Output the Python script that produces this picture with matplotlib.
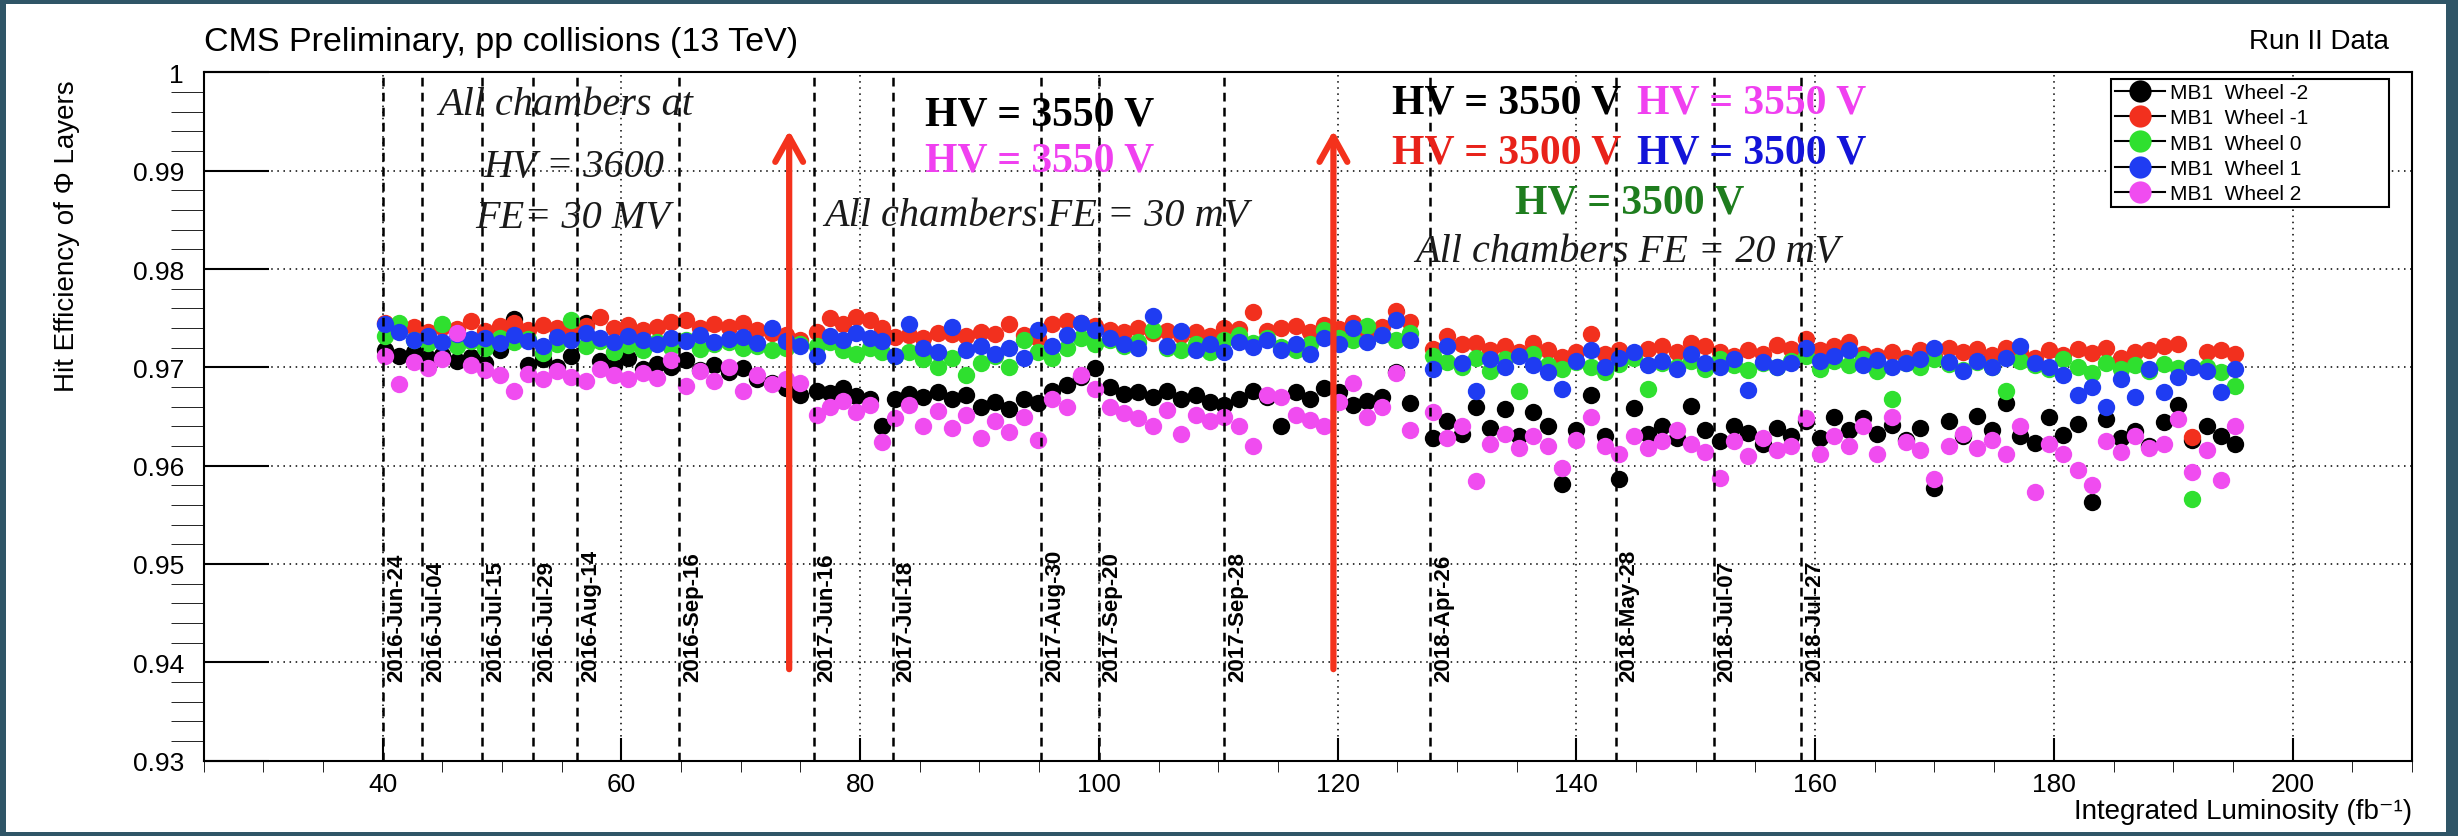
"""MB1 hit efficiency of the Phi layers vs integrated luminosity, CMS Run II."""

import matplotlib

matplotlib.use("Agg")
import matplotlib.pyplot as plt
from matplotlib.lines import Line2D
from matplotlib.patches import Rectangle
from matplotlib.ticker import FuncFormatter, MultipleLocator

SANS = ["Liberation Sans", "DejaVu Sans"]
SERIF = ["Liberation Serif", "DejaVu Serif"]

# integrated luminosity of each point (fb^-1), shared by the five wheels
LUMI = (
    [40.2, 41.4, 42.6, 43.8, 45.0, 46.2, 47.4, 48.6, 49.8, 51.0,
     52.2, 53.4, 54.6, 55.8, 57.0, 58.2, 59.4, 60.6, 61.8, 63.0,
     64.2, 65.4, 66.6, 67.8, 69.0, 70.2, 71.4, 72.6, 73.8, 75.0]
    + [76.4, 77.5, 78.6, 79.7, 80.8, 81.8]
    + [82.9, 84.1, 85.3, 86.5, 87.7, 88.9, 90.1, 91.3, 92.5, 93.7,
       94.9, 96.1, 97.3, 98.5, 99.7, 100.9, 102.1, 103.3, 104.5, 105.7,
       106.9, 108.1, 109.3, 110.5, 111.7, 112.9, 114.1, 115.3, 116.5, 117.7,
       118.9, 120.1, 121.3, 122.5, 123.7, 124.9, 126.1]
    + [128.0, 129.2, 130.4, 131.6, 132.8, 134.0, 135.2, 136.4, 137.6, 138.8,
       140.0, 141.2, 142.4, 143.6, 144.8, 146.0, 147.2, 148.4, 149.6, 150.8,
       152.0, 153.2, 154.4, 155.6, 156.8, 158.0, 159.2, 160.4, 161.6, 162.8,
       164.0, 165.2, 166.4, 167.6, 168.8, 170.0, 171.2, 172.4, 173.6, 174.8,
       176.0, 177.2, 178.4, 179.6, 180.8, 182.0, 183.2, 184.4, 185.6, 186.8,
       188.0, 189.2, 190.4, 191.6, 192.8, 194.0, 195.2]
)

EFF_WM2 = (
    [0.9718, 0.9712, 0.9716, 0.9709, 0.9713, 0.9706, 0.9711, 0.9704, 0.9718, 0.9749,
     0.9702, 0.9708, 0.9700, 0.9712, 0.9745, 0.9706, 0.9701, 0.9709, 0.9698, 0.9703,
     0.9700, 0.9707, 0.9697, 0.9702, 0.9695, 0.9699, 0.9688, 0.9684, 0.9679, 0.9672]
    + [0.9676, 0.9674, 0.9679, 0.9671, 0.9668, 0.9640]
    + [0.9668, 0.9673, 0.9670, 0.9675, 0.9668, 0.9672, 0.9660, 0.9665, 0.9658, 0.9668,
       0.9664, 0.9676, 0.9682, 0.9690, 0.9699, 0.9680, 0.9673, 0.9675, 0.9670, 0.9676,
       0.9668, 0.9672, 0.9665, 0.9662, 0.9668, 0.9676, 0.9670, 0.9640, 0.9675, 0.9668,
       0.9679, 0.9675, 0.9662, 0.9666, 0.9670, 0.9695, 0.9664]
    + [0.9628, 0.9645, 0.9632, 0.9660, 0.9638, 0.9658, 0.9630, 0.9655, 0.9640, 0.9581,
       0.9636, 0.9672, 0.9630, 0.9586, 0.9659, 0.9632, 0.9640, 0.9628, 0.9661, 0.9636,
       0.9625, 0.9640, 0.9633, 0.9622, 0.9638, 0.9630, 0.9645, 0.9628, 0.9650, 0.9636,
       0.9648, 0.9632, 0.9641, 0.9626, 0.9638, 0.9577, 0.9645, 0.9630, 0.9651, 0.9636,
       0.9664, 0.9630, 0.9623, 0.9649, 0.9631, 0.9642, 0.9563, 0.9647, 0.9628, 0.9635,
       0.9620, 0.9644, 0.9662, 0.9626, 0.9640, 0.9630, 0.9622]
)

EFF_WM1 = (
    [0.9745, 0.9738, 0.9741, 0.9736, 0.9741, 0.9739, 0.9747, 0.9737, 0.9742, 0.9745,
     0.9738, 0.9743, 0.9740, 0.9736, 0.9742, 0.9751, 0.9740, 0.9743, 0.9738, 0.9741,
     0.9746, 0.9748, 0.9740, 0.9744, 0.9741, 0.9745, 0.9738, 0.9735, 0.9733, 0.9728]
    + [0.9736, 0.9750, 0.9744, 0.9751, 0.9748, 0.9740]
    + [0.9731, 0.9733, 0.9730, 0.9735, 0.9734, 0.9732, 0.9736, 0.9734, 0.9744, 0.9733,
       0.9730, 0.9744, 0.9747, 0.9745, 0.9742, 0.9738, 0.9736, 0.9740, 0.9735, 0.9737,
       0.9733, 0.9736, 0.9732, 0.9740, 0.9739, 0.9756, 0.9737, 0.9740, 0.9742, 0.9736,
       0.9743, 0.9739, 0.9745, 0.9737, 0.9741, 0.9757, 0.9746]
    + [0.9719, 0.9732, 0.9724, 0.9725, 0.9718, 0.9722, 0.9716, 0.9725, 0.9718, 0.9711,
       0.9716, 0.9734, 0.9714, 0.9718, 0.9712, 0.9719, 0.9722, 0.9716, 0.9725, 0.9722,
       0.9716, 0.9712, 0.9718, 0.9714, 0.9723, 0.9719, 0.9729, 0.9718, 0.9722, 0.9726,
       0.9714, 0.9712, 0.9716, 0.9710, 0.9718, 0.9712, 0.9720, 0.9716, 0.9719, 0.9713,
       0.9720, 0.9716, 0.9710, 0.9718, 0.9713, 0.9719, 0.9715, 0.9720, 0.9710, 0.9716,
       0.9718, 0.9722, 0.9724, 0.9629, 0.9716, 0.9718, 0.9714]
)

EFF_W0 = (
    [0.9732, 0.9745, 0.9728, 0.9725, 0.9744, 0.9722, 0.9727, 0.9720, 0.9730, 0.9726,
     0.9729, 0.9715, 0.9724, 0.9748, 0.9722, 0.9727, 0.9716, 0.9723, 0.9718, 0.9726,
     0.9721, 0.9728, 0.9719, 0.9724, 0.9726, 0.9720, 0.9722, 0.9718, 0.9720, 0.9724]
    + [0.9722, 0.9726, 0.9718, 0.9714, 0.9720, 0.9716]
    + [0.9712, 0.9716, 0.9708, 0.9700, 0.9710, 0.9692, 0.9704, 0.9712, 0.9700, 0.9728,
       0.9716, 0.9710, 0.9720, 0.9730, 0.9724, 0.9728, 0.9722, 0.9726, 0.9738, 0.9720,
       0.9718, 0.9724, 0.9716, 0.9728, 0.9733, 0.9725, 0.9730, 0.9721, 0.9718, 0.9724,
       0.9738, 0.9730, 0.9728, 0.9742, 0.9733, 0.9728, 0.9735]
    + [0.9712, 0.9705, 0.9700, 0.9710, 0.9696, 0.9708, 0.9676, 0.9714, 0.9702, 0.9698,
       0.9705, 0.9700, 0.9695, 0.9703, 0.9710, 0.9678, 0.9704, 0.9700, 0.9706, 0.9698,
       0.9708, 0.9702, 0.9697, 0.9704, 0.9700, 0.9706, 0.9712, 0.9698, 0.9706, 0.9702,
       0.9708, 0.9696, 0.9668, 0.9704, 0.9700, 0.9708, 0.9703, 0.9697, 0.9705, 0.9700,
       0.9676, 0.9706, 0.9702, 0.9698, 0.9708, 0.9700, 0.9694, 0.9704, 0.9698, 0.9702,
       0.9696, 0.9703, 0.9699, 0.9566, 0.9700, 0.9695, 0.9681]
)

EFF_WP1 = (
    [0.9744, 0.9736, 0.9728, 0.9732, 0.9726, 0.9734, 0.9729, 0.9730, 0.9725, 0.9733,
     0.9727, 0.9722, 0.9731, 0.9728, 0.9735, 0.9730, 0.9726, 0.9732, 0.9728, 0.9724,
     0.9730, 0.9727, 0.9733, 0.9726, 0.9729, 0.9731, 0.9725, 0.9740, 0.9727, 0.9722]
    + [0.9712, 0.9732, 0.9728, 0.9735, 0.9730, 0.9727]
    + [0.9712, 0.9744, 0.9720, 0.9716, 0.9741, 0.9718, 0.9722, 0.9714, 0.9720, 0.9710,
       0.9738, 0.9722, 0.9733, 0.9745, 0.9738, 0.9730, 0.9724, 0.9720, 0.9752, 0.9722,
       0.9737, 0.9718, 0.9724, 0.9716, 0.9726, 0.9721, 0.9728, 0.9718, 0.9724, 0.9714,
       0.9730, 0.9724, 0.9740, 0.9726, 0.9733, 0.9748, 0.9728]
    + [0.9698, 0.9722, 0.9704, 0.9676, 0.9708, 0.9700, 0.9712, 0.9702, 0.9695, 0.9678,
       0.9706, 0.9718, 0.9700, 0.9710, 0.9716, 0.9702, 0.9706, 0.9698, 0.9714, 0.9704,
       0.9700, 0.9708, 0.9677, 0.9705, 0.9700, 0.9704, 0.9720, 0.9706, 0.9712, 0.9718,
       0.9702, 0.9707, 0.9700, 0.9704, 0.9708, 0.9720, 0.9705, 0.9696, 0.9706, 0.9700,
       0.9710, 0.9722, 0.9704, 0.9700, 0.9692, 0.9672, 0.9680, 0.9660, 0.9688, 0.9670,
       0.9698, 0.9675, 0.9690, 0.9700, 0.9696, 0.9675, 0.9698]
)

EFF_WP2 = (
    [0.9712, 0.9683, 0.9705, 0.9699, 0.9708, 0.9735, 0.9702, 0.9697, 0.9692, 0.9676,
     0.9693, 0.9688, 0.9696, 0.9690, 0.9686, 0.9698, 0.9692, 0.9688, 0.9694, 0.9689,
     0.9707, 0.9681, 0.9696, 0.9686, 0.9700, 0.9676, 0.9692, 0.9683, 0.9688, 0.9684]
    + [0.9652, 0.9660, 0.9666, 0.9655, 0.9662, 0.9624]
    + [0.9648, 0.9662, 0.9640, 0.9656, 0.9638, 0.9652, 0.9628, 0.9645, 0.9634, 0.9650,
       0.9626, 0.9668, 0.9660, 0.9692, 0.9678, 0.9660, 0.9654, 0.9648, 0.9640, 0.9657,
       0.9632, 0.9652, 0.9645, 0.9650, 0.9640, 0.9620, 0.9672, 0.9670, 0.9652, 0.9646,
       0.9640, 0.9665, 0.9684, 0.9650, 0.9660, 0.9694, 0.9636]
    + [0.9655, 0.9628, 0.9640, 0.9584, 0.9622, 0.9632, 0.9618, 0.9630, 0.9620, 0.9598,
       0.9626, 0.9650, 0.9620, 0.9612, 0.9630, 0.9618, 0.9625, 0.9636, 0.9622, 0.9614,
       0.9587, 0.9625, 0.9610, 0.9628, 0.9616, 0.9620, 0.9648, 0.9612, 0.9630, 0.9620,
       0.9640, 0.9612, 0.9650, 0.9624, 0.9616, 0.9586, 0.9620, 0.9632, 0.9618, 0.9626,
       0.9612, 0.9640, 0.9573, 0.9622, 0.9612, 0.9596, 0.9580, 0.9625, 0.9614, 0.9630,
       0.9618, 0.9622, 0.9647, 0.9594, 0.9616, 0.9585, 0.9640]
)

EFF_ERR = 0.0004

WHEEL_LABELS = ["MB1  Wheel -2", "MB1  Wheel -1", "MB1  Wheel 0",
                "MB1  Wheel 1", "MB1  Wheel 2"]
WHEEL_COLORS = ["#000000", "#f2301e", "#2fe02f", "#1f3cf2", "#f04cf0"]

DATE_LUMI = [40.03, 43.30, 48.34, 52.62, 56.31, 64.84, 76.11, 82.73,
             95.18, 99.99, 110.5, 127.75, 143.3, 151.5, 158.8]
DATE_LABELS = ["2016-Jun-24", "2016-Jul-04", "2016-Jul-15", "2016-Jul-29",
               "2016-Aug-14", "2016-Sep-16", "2017-Jun-16", "2017-Jul-18",
               "2017-Aug-30", "2017-Sep-20", "2017-Sep-28", "2018-Apr-26",
               "2018-May-28", "2018-Jul-07", "2018-Jul-27"]

HV_CHANGE_LUMI = [74.06, 119.65]

BORDER = "#2f5567"
ARROW_RED = "#f4321c"


def draw_annotations(ax):
    italic = dict(family=SERIF, style="italic", size=29, color="#1a1a1a",
                  ha="center", va="baseline", zorder=8)
    hv = dict(family=SERIF, weight="bold", size=30, ha="center",
              va="baseline", zorder=8)

    ax.text(55.3, 0.9958, "All chambers at", **italic)
    ax.text(56.0, 0.9895, "HV = 3600", **italic)
    ax.text(55.9, 0.9843, "FE= 30 MV", **italic)

    ax.text(95.0, 0.9947, "HV = 3550 V", color="black", **hv)
    ax.text(95.0, 0.9900, "HV = 3550 V", color="#f040f0", **hv)
    ax.text(94.75, 0.9845, "All chambers FE = 30 mV", **italic)

    ax.text(134.2, 0.9959, "HV = 3550 V", color="black", **hv)
    ax.text(154.7, 0.9959, "HV = 3550 V", color="#f040f0", **hv)
    ax.text(134.2, 0.9908, "HV = 3500 V", color="#e8221a", **hv)
    ax.text(154.7, 0.9908, "HV = 3500 V", color="#1414d8", **hv)
    ax.text(144.5, 0.9857, "HV = 3500 V", color="#1e7d1e", **hv)
    ax.text(144.3, 0.9808, "All chambers FE = 20 mV", **italic)


def main():
    fig = plt.figure(figsize=(24.58, 8.37), dpi=100, facecolor=BORDER)
    fig.add_artist(Rectangle((6 / 2458, 4 / 837), 1 - 18 / 2458, 1 - 9 / 837,
                             transform=fig.transFigure, facecolor="white",
                             edgecolor="none", zorder=-5))
    ax = fig.add_axes([203.5 / 2458, 75.4 / 837, 2208.5 / 2458, 688.2 / 837])

    series = [EFF_WM2, EFF_WM1, EFF_W0, EFF_WP1, EFF_WP2]
    for i, (eff, color) in enumerate(zip(series, WHEEL_COLORS)):
        ax.errorbar(LUMI, eff, yerr=EFF_ERR, fmt="o", ms=12.5, mfc=color, mec=color,
                    mew=0, ecolor=color, elinewidth=1.4, capsize=3.5, capthick=1.4,
                    zorder=3 + 0.1 * i)

    for lumi, label in zip(DATE_LUMI, DATE_LABELS):
        ax.axvline(lumi, color="black", lw=1.8, ls=(0, (3.5, 2.5)), zorder=5)
        ax.text(lumi + 0.25, 0.9381, label, rotation=90, ha="left", va="bottom",
                family=SANS, weight="bold", size=16, zorder=6)

    for lumi in HV_CHANGE_LUMI:
        ax.annotate("", xy=(lumi, 0.9941), xytext=(lumi, 0.9393),
                    arrowprops=dict(arrowstyle="->,head_length=0.9,head_width=0.5",
                                    lw=4.5, color=ARROW_RED, mutation_scale=20,
                                    shrinkA=0, shrinkB=0),
                    zorder=7)

    draw_annotations(ax)

    ax.set_xlim(25, 210)
    ax.set_ylim(0.93, 1.0)
    ax.xaxis.set_major_locator(MultipleLocator(20))
    ax.xaxis.set_minor_locator(MultipleLocator(5))
    ax.yaxis.set_major_locator(MultipleLocator(0.01))
    ax.yaxis.set_minor_locator(MultipleLocator(0.002))
    ax.yaxis.set_major_formatter(FuncFormatter(lambda v, p: f"{v:g}"))
    ax.tick_params(direction="in", top=False, right=False, width=1.5)
    ax.tick_params(axis="y", which="major", length=47, pad=14)
    ax.tick_params(axis="y", which="minor", length=24)
    ax.tick_params(axis="x", which="major", length=16.5, pad=8)
    ax.tick_params(axis="x", which="minor", length=8)
    for lbl in ax.get_xticklabels() + ax.get_yticklabels():
        lbl.set_family(SANS)
        lbl.set_fontsize(19)
    for spine in ax.spines.values():
        spine.set_linewidth(1.5)
    ax.set_axisbelow(True)
    ax.grid(True, which="major", color="black", lw=1.1, ls=(0, (1, 3)))

    ax.text(1.0, -0.073, "Integrated Luminosity (fb\u207b\u00b9)", transform=ax.transAxes,
            ha="right", va="center", family=SANS, size=20)
    ax.text(-0.062, 0.99, "Hit Efficiency of \u03a6 Layers", transform=ax.transAxes,
            rotation=90, ha="center", va="top", family=SANS, size=20)

    fig.text(203.5 / 2458, 1 - 42 / 837, "CMS Preliminary, pp collisions (13 TeV)",
             ha="left", va="center", family=SANS, size=24.5)
    fig.text(2389 / 2458, 1 - 42 / 837, "Run II Data", ha="right", va="center",
             family=SANS, size=20)

    handles = [Line2D([], [], color="black", lw=1.5, marker="o", ms=16, mfc=c,
                      mec=c, mew=0) for c in WHEEL_COLORS]
    leg = ax.legend(handles, WHEEL_LABELS, loc="upper left",
                    bbox_to_anchor=(0.8637, 0.7754, 0.1259, 0.2150), mode="expand",
                    borderaxespad=0, prop={"family": SANS, "size": 15},
                    handlelength=2.4, handletextpad=0.25, labelspacing=0.3,
                    borderpad=0.2, fancybox=False, framealpha=1, edgecolor="black")
    leg.get_frame().set_linewidth(1.5)
    leg.set_zorder(10)

    fig.savefig("out.png", dpi=100, facecolor=BORDER)


if __name__ == "__main__":
    main()
